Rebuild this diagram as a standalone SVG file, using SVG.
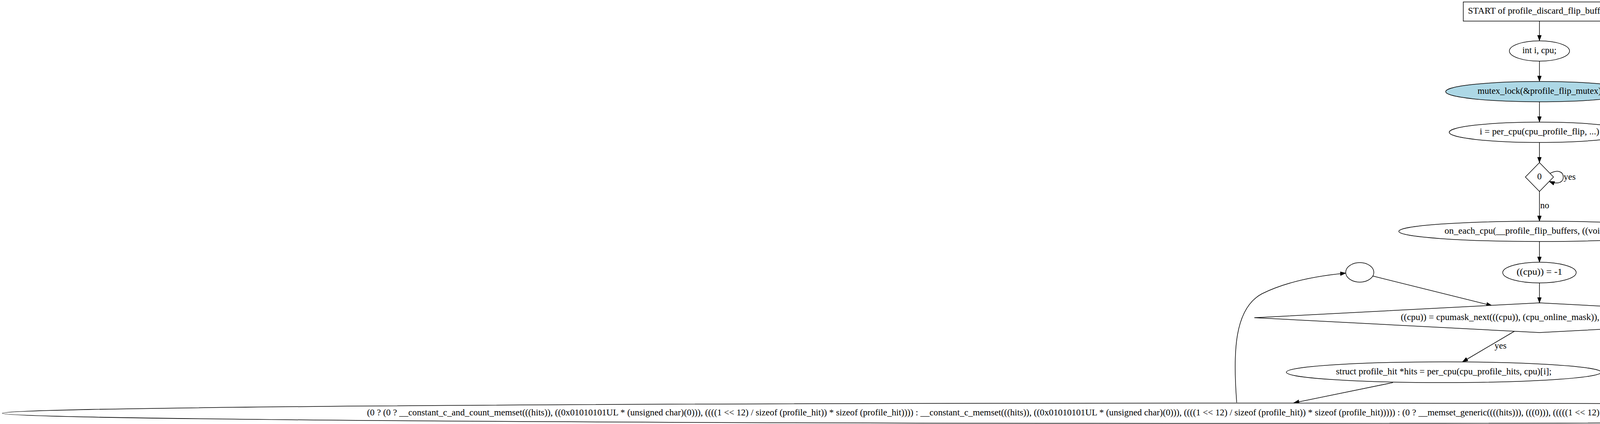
<svg xmlns="http://www.w3.org/2000/svg" width="6733" height="1085" viewBox="0 0 6733 1085">
<style>
text{font-family:"Liberation Serif","Times New Roman",serif;font-size:23px;fill:#000;text-anchor:middle}
text.lbl{text-anchor:start}
.n{fill:#fff;stroke:#000;stroke-width:1.5}
.e{fill:none;stroke:#000;stroke-width:1.5}
</style>
<defs>
<marker id="ah" markerUnits="userSpaceOnUse" markerWidth="16" markerHeight="12" refX="14" refY="5" orient="auto">
<polygon points="0,0 14,5 0,10" fill="#000" stroke="#000" stroke-width="1"/>
</marker>
</defs>
<rect width="6733" height="1085" fill="#fff"/>
<g id="edges">
<path class="e" d="M3941,54 L3941,104" marker-end="url(#ah)"/>
<path class="e" d="M3941,157 L3941,208" marker-end="url(#ah)"/>
<path class="e" d="M3941,261 L3941,312" marker-end="url(#ah)"/>
<path class="e" d="M3941,365 L3941,416" marker-end="url(#ah)"/>
<path class="e" d="M3966,445 C3988,432 4002,440 4002,453 C4002,467 3988,473 3966,464" marker-end="url(#ah)"/>
<text class="lbl" x="4003" y="460">yes</text>
<path class="e" d="M3941,490 L3941,566" marker-end="url(#ah)"/>
<text class="lbl" x="3943" y="533">no</text>
<path class="e" d="M3941,618 L3941,671" marker-end="url(#ah)"/>
<path class="e" d="M3941,724 L3941,775" marker-end="url(#ah)"/>
<path class="e" d="M3513,706 L3819,782" marker-end="url(#ah)"/>
<path class="e" d="M3878,847 L3744,926" marker-end="url(#ah)"/>
<text class="lbl" x="3826" y="892">yes</text>
<path class="e" d="M4242,834 L5619,937" marker-end="url(#ah)"/>
<text x="5119" y="892">no</text>
<path class="e" d="M3566,979 L3312,1031" marker-end="url(#ah)"/>
<path class="e" d="M3166,1030 C3156,900 3160,790 3230,752 C3290,722 3370,706 3445,699" marker-end="url(#ah)"/>
<path class="e" d="M5983,974 L6379,1033" marker-end="url(#ah)"/>
</g>
<g id="start">
<rect class="n" x="3746" y="5" width="390" height="49"/>
<text x="3941" y="35" textLength="366" lengthAdjust="spacingAndGlyphs">START of profile_discard_flip_buffers</text>
</g>
<g id="decl">
<ellipse class="n" cx="3941" cy="130.5" rx="77" ry="26"/>
<text x="3941" y="136">int i, cpu;</text>
</g>
<g id="lock">
<ellipse class="n" cx="3941" cy="234.5" rx="240" ry="26" style="fill:#add8e6"/>
<text x="3941" y="240" textLength="317" lengthAdjust="spacingAndGlyphs">mutex_lock(&amp;profile_flip_mutex)</text>
</g>
<g id="percpu">
<ellipse class="n" cx="3941" cy="338.5" rx="231" ry="26"/>
<text x="3941" y="344" textLength="306" lengthAdjust="spacingAndGlyphs">i = per_cpu(cpu_profile_flip, ...)</text>
</g>
<g id="cond0">
<polygon class="n" points="3941,416 3977,453 3941,490 3905,453"/>
<text x="3941" y="459">0</text>
</g>
<g id="oneach">
<ellipse class="n" cx="3941" cy="592" rx="360" ry="26"/>
<text x="3941" y="598" textLength="486" lengthAdjust="spacingAndGlyphs">on_each_cpu(__profile_flip_buffers, ((void *)0), 1)</text>
</g>
<g id="cpuinit">
<ellipse class="n" cx="3941" cy="697.5" rx="94" ry="26.5"/>
<text x="3941" y="703" textLength="117" lengthAdjust="spacingAndGlyphs">((cpu)) = -1</text>
</g>
<g id="empty">
<ellipse class="n" cx="3481" cy="697" rx="36" ry="25"/>
</g>
<g id="cpumask">
<polygon class="n" points="3941,775 4671,813 3941,851 3211,813"/>
<text x="3941" y="819" textLength="710" lengthAdjust="spacingAndGlyphs">((cpu)) = cpumask_next(((cpu)), (cpu_online_mask)), ((cpu)) &lt; nr_cpu_ids</text>
</g>
<g id="hits">
<ellipse class="n" cx="3696" cy="952.5" rx="403" ry="26.5"/>
<text x="3696" y="958" textLength="552" lengthAdjust="spacingAndGlyphs">struct profile_hit *hits = per_cpu(cpu_profile_hits, cpu)[i];</text>
</g>
<g id="unlock">
<ellipse class="n" cx="5830" cy="952" rx="258" ry="26.5" style="fill:#ffff00"/>
<text x="5830" y="958" textLength="344" lengthAdjust="spacingAndGlyphs">mutex_unlock(&amp;profile_flip_mutex)</text>
</g>
<g id="memset">
<ellipse class="n" cx="3173" cy="1057.5" rx="3167" ry="26"/>
<text x="3172" y="1063" textLength="4465" lengthAdjust="spacingAndGlyphs">(0 ? (0 ? __constant_c_and_count_memset(((hits)), ((0x01010101UL * (unsigned char)(0))), ((((1 &lt;&lt; 12) / sizeof (profile_hit)) * sizeof (profile_hit)))) : __constant_c_memset(((hits)), ((0x01010101UL * (unsigned char)(0))), ((((1 &lt;&lt; 12) / sizeof (profile_hit)) * sizeof (profile_hit))))) : (0 ? __memset_generic((((hits))), (((0))), (((((1 &lt;&lt; 12) / sizeof (profile_hit)) * sizeof (profile_hit))))) : __memset_generic(((hits)), ((0)), ((((1 &lt;&lt; 12) / sizeof (profile_hit)) * sizeof (profile_hit))))))</text>
</g>
<g id="end">
<rect class="n" x="6364" y="1033" width="364" height="49"/>
<text x="6546" y="1063" textLength="340" lengthAdjust="spacingAndGlyphs">END of profile_discard_flip_buffers</text>
</g>
</svg>
